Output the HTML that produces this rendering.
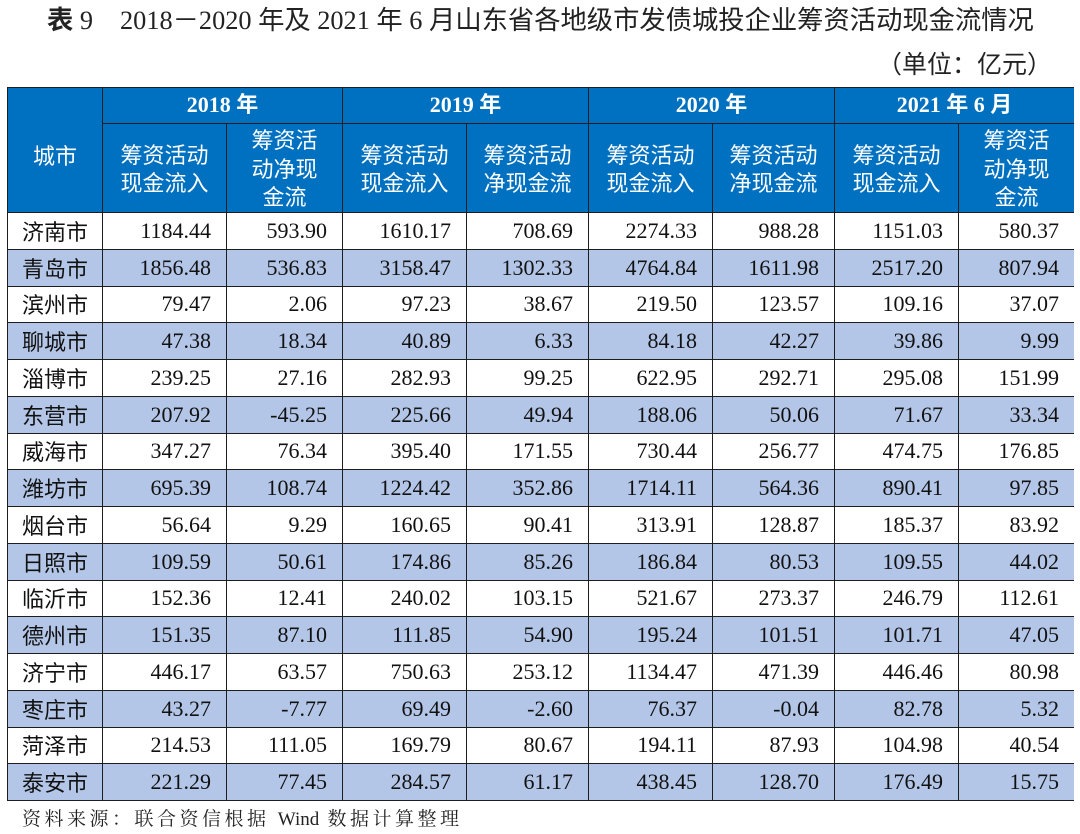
<!DOCTYPE html>
<html>
<head>
<meta charset="utf-8">
<style>
  html, body { margin:0; padding:0; background:#fff; }
  body { width:1080px; height:834px; position:relative; overflow:hidden; }
  .title {
    position:absolute; left:47px; top:2px; height:32px; line-height:32px;
    font-family:"Liberation Serif","Noto Sans CJK SC",sans-serif; font-size:26.3px; color:#222; white-space:nowrap;
  }
  .title b { font-family:"Noto Sans CJK SC",sans-serif; font-weight:bold; }
  .unit {
    position:absolute; right:28px; top:47px; line-height:32px;
    font-family:"Noto Sans CJK SC",sans-serif; font-size:25px; color:#222; white-space:nowrap;
  }
  .grid {
    position:absolute; left:7px; top:87px; width:1066px;
    padding:1px 0 1px 1px;
    background:#1d1d1d;
    display:grid;
    grid-template-columns:94px 123px 115px 123px 121px 123px 121px 123px 115px;
    grid-template-rows:35px 88px repeat(16, 35.75px);
    gap:1px;
  }
  .grid > div {
    display:flex; align-items:center; overflow:hidden;
    font-family:"Liberation Serif","Noto Sans CJK SC",serif; font-size:22px; color:#111;
    background:#fff;
  }
  .h { background:#0070C0 !important; color:#fff !important; justify-content:center; text-align:center;
       font-family:"Noto Sans CJK SC",sans-serif !important; line-height:28.5px; }
  .y { font-family:"Liberation Serif","Noto Sans CJK SC",serif !important; font-weight:bold; font-size:22px; }
  .c { justify-content:center; font-family:"Noto Sans CJK SC",sans-serif !important; }
  .n { justify-content:flex-end; padding-right:15px; }
  .s { background:#B4C6E7 !important; }
  .foot {
    position:absolute; left:22px; top:807px; line-height:26px;
    font-family:"Liberation Serif","Noto Serif CJK SC",serif; font-size:19px; letter-spacing:3.5px; color:#222; white-space:nowrap;
  }
  .foot span { letter-spacing:0; }
</style>
</head>
<body>
<div class="title"><b>表</b> 9<span style="display:inline-block;width:27px"></span>2018－2020 年及 2021 年 6 月山东省各地级市发债城投企业筹资活动现金流情况</div>
<div class="unit">（单位：亿元）</div>

<div class="grid">
  <div class="h" style="grid-row:1 / span 2; padding-top:10px;">城市</div>
  <div class="h y" style="grid-column:span 2;">2018 年</div>
  <div class="h y" style="grid-column:span 2;">2019 年</div>
  <div class="h y" style="grid-column:span 2;">2020 年</div>
  <div class="h y" style="grid-column:span 2;">2021 年 6 月</div>

  <div class="h">筹资活动<br>现金流入</div>
  <div class="h">筹资活<br>动净现<br>金流</div>
  <div class="h">筹资活动<br>现金流入</div>
  <div class="h">筹资活动<br>净现金流</div>
  <div class="h">筹资活动<br>现金流入</div>
  <div class="h">筹资活动<br>净现金流</div>
  <div class="h">筹资活动<br>现金流入</div>
  <div class="h">筹资活<br>动净现<br>金流</div>

  <div class="c">济南市</div><div class="n">1184.44</div><div class="n">593.90</div><div class="n">1610.17</div><div class="n">708.69</div><div class="n">2274.33</div><div class="n">988.28</div><div class="n">1151.03</div><div class="n">580.37</div>
  <div class="c s">青岛市</div><div class="n s">1856.48</div><div class="n s">536.83</div><div class="n s">3158.47</div><div class="n s">1302.33</div><div class="n s">4764.84</div><div class="n s">1611.98</div><div class="n s">2517.20</div><div class="n s">807.94</div>
  <div class="c">滨州市</div><div class="n">79.47</div><div class="n">2.06</div><div class="n">97.23</div><div class="n">38.67</div><div class="n">219.50</div><div class="n">123.57</div><div class="n">109.16</div><div class="n">37.07</div>
  <div class="c s">聊城市</div><div class="n s">47.38</div><div class="n s">18.34</div><div class="n s">40.89</div><div class="n s">6.33</div><div class="n s">84.18</div><div class="n s">42.27</div><div class="n s">39.86</div><div class="n s">9.99</div>
  <div class="c">淄博市</div><div class="n">239.25</div><div class="n">27.16</div><div class="n">282.93</div><div class="n">99.25</div><div class="n">622.95</div><div class="n">292.71</div><div class="n">295.08</div><div class="n">151.99</div>
  <div class="c s">东营市</div><div class="n s">207.92</div><div class="n s">-45.25</div><div class="n s">225.66</div><div class="n s">49.94</div><div class="n s">188.06</div><div class="n s">50.06</div><div class="n s">71.67</div><div class="n s">33.34</div>
  <div class="c">威海市</div><div class="n">347.27</div><div class="n">76.34</div><div class="n">395.40</div><div class="n">171.55</div><div class="n">730.44</div><div class="n">256.77</div><div class="n">474.75</div><div class="n">176.85</div>
  <div class="c s">潍坊市</div><div class="n s">695.39</div><div class="n s">108.74</div><div class="n s">1224.42</div><div class="n s">352.86</div><div class="n s">1714.11</div><div class="n s">564.36</div><div class="n s">890.41</div><div class="n s">97.85</div>
  <div class="c">烟台市</div><div class="n">56.64</div><div class="n">9.29</div><div class="n">160.65</div><div class="n">90.41</div><div class="n">313.91</div><div class="n">128.87</div><div class="n">185.37</div><div class="n">83.92</div>
  <div class="c s">日照市</div><div class="n s">109.59</div><div class="n s">50.61</div><div class="n s">174.86</div><div class="n s">85.26</div><div class="n s">186.84</div><div class="n s">80.53</div><div class="n s">109.55</div><div class="n s">44.02</div>
  <div class="c">临沂市</div><div class="n">152.36</div><div class="n">12.41</div><div class="n">240.02</div><div class="n">103.15</div><div class="n">521.67</div><div class="n">273.37</div><div class="n">246.79</div><div class="n">112.61</div>
  <div class="c s">德州市</div><div class="n s">151.35</div><div class="n s">87.10</div><div class="n s">111.85</div><div class="n s">54.90</div><div class="n s">195.24</div><div class="n s">101.51</div><div class="n s">101.71</div><div class="n s">47.05</div>
  <div class="c">济宁市</div><div class="n">446.17</div><div class="n">63.57</div><div class="n">750.63</div><div class="n">253.12</div><div class="n">1134.47</div><div class="n">471.39</div><div class="n">446.46</div><div class="n">80.98</div>
  <div class="c s">枣庄市</div><div class="n s">43.27</div><div class="n s">-7.77</div><div class="n s">69.49</div><div class="n s">-2.60</div><div class="n s">76.37</div><div class="n s">-0.04</div><div class="n s">82.78</div><div class="n s">5.32</div>
  <div class="c">菏泽市</div><div class="n">214.53</div><div class="n">111.05</div><div class="n">169.79</div><div class="n">80.67</div><div class="n">194.11</div><div class="n">87.93</div><div class="n">104.98</div><div class="n">40.54</div>
  <div class="c s">泰安市</div><div class="n s">221.29</div><div class="n s">77.45</div><div class="n s">284.57</div><div class="n s">61.17</div><div class="n s">438.45</div><div class="n s">128.70</div><div class="n s">176.49</div><div class="n s">15.75</div>
</div>

<div class="foot">资料来源：联合资信根据 <span>Wind</span> 数据计算整理</div>
</body>
</html>
